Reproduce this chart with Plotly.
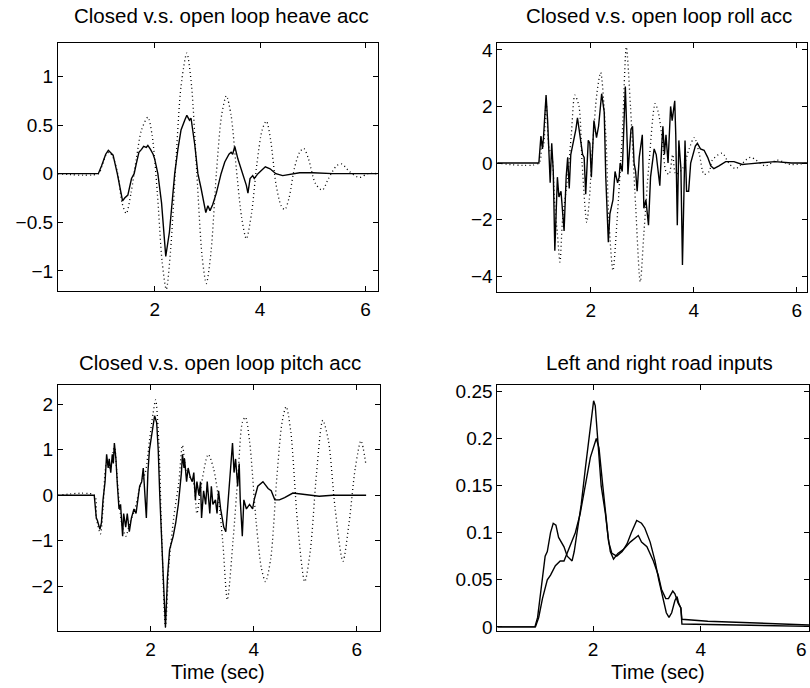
import plotly.graph_objects as go

# ---------------- data ----------------
heave_closed_t = [0.16, 0.93, 0.99, 1.07, 1.12, 1.18, 1.21, 1.29, 1.34, 1.39, 1.43, 1.49, 1.56, 1.61, 1.65, 1.70,
                  1.75, 1.79, 1.84, 1.87, 1.92, 1.97, 2.00, 2.06, 2.13, 2.17, 2.21, 2.28, 2.33, 2.38, 2.44, 2.50,
                  2.57, 2.61, 2.66, 2.69, 2.76, 2.82, 2.88, 2.97, 3.01, 3.05, 3.10, 3.17, 3.26, 3.33, 3.41, 3.45,
                  3.48, 3.52, 3.58, 3.64, 3.70, 3.74, 3.77, 3.81, 3.86, 3.89, 3.96, 4.05, 4.10, 4.19, 4.30, 4.43,
                  4.55, 4.75, 5.00, 5.38, 6.23]
heave_closed = [0.0, 0.0, 0.08, 0.20, 0.24, 0.20, 0.19, 0.0, -0.15, -0.28, -0.25, -0.22, -0.05, 0.0, 0.10, 0.22,
                0.25, 0.28, 0.27, 0.29, 0.25, 0.20, 0.15, 0.0, -0.30, -0.60, -0.85, -0.60, -0.30, 0.0, 0.25, 0.45,
                0.55, 0.60, 0.55, 0.57, 0.30, 0.0, -0.15, -0.40, -0.33, -0.38, -0.32, -0.20, 0.0, 0.12, 0.20, 0.22,
                0.20, 0.28, 0.15, 0.05, -0.05, -0.12, -0.20, -0.05, -0.02, -0.05, 0.0, 0.05, 0.07, 0.05, 0.0, -0.02,
                -0.01, 0.01, 0.01, 0.0, 0.0]

heave_open_t = [0.16, 0.93, 1.00, 1.08, 1.13, 1.20, 1.30, 1.38, 1.46, 1.55, 1.65, 1.75, 1.87, 1.95, 2.05, 2.14,
                2.22, 2.30, 2.40, 2.50, 2.61, 2.70, 2.80, 2.90, 2.98, 3.07, 3.17, 3.27, 3.36, 3.45, 3.55, 3.65,
                3.74, 3.84, 3.94, 4.04, 4.12, 4.20, 4.30, 4.40, 4.47, 4.55, 4.65, 4.75, 4.83, 4.92, 5.05, 5.18,
                5.30, 5.45, 5.55, 5.70, 5.88, 6.05, 6.23]
heave_open = [0.0, 0.0, 0.08, 0.20, 0.22, 0.18, 0.0, -0.30, -0.41, -0.20, 0.15, 0.45, 0.58, 0.40, -0.20, -0.90,
              -1.19, -0.80, 0.10, 0.90, 1.24, 0.90, 0.0, -0.85, -1.13, -0.80, 0.0, 0.60, 0.80, 0.60, 0.05, -0.45,
              -0.67, -0.40, 0.10, 0.45, 0.54, 0.35, -0.10, -0.33, -0.37, -0.25, 0.05, 0.22, 0.26, 0.15, -0.10, -0.17,
              -0.05, 0.08, 0.10, 0.02, -0.04, 0.0, 0.0]

roll_closed_t = [0.18, 0.99, 1.03, 1.06, 1.08, 1.13, 1.16, 1.19, 1.21, 1.24, 1.26, 1.27, 1.30, 1.33, 1.35, 1.38,
                 1.42, 1.48, 1.52, 1.55, 1.58, 1.61, 1.66, 1.71, 1.74, 1.78, 1.84, 1.87, 1.90, 1.95, 1.98, 2.01,
                 2.03, 2.06, 2.11, 2.15, 2.21, 2.26, 2.29, 2.34, 2.37, 2.43, 2.47, 2.52, 2.55, 2.57, 2.61, 2.67,
                 2.71, 2.72, 2.78, 2.81, 2.84, 2.87, 2.90, 2.94, 3.00, 3.03, 3.07, 3.12, 3.16, 3.23, 3.27, 3.34,
                 3.38, 3.40, 3.43, 3.46, 3.50, 3.53, 3.55, 3.58, 3.63, 3.65, 3.68, 3.71, 3.75, 3.78, 3.81, 3.83,
                 3.86, 3.90, 3.94, 3.97, 4.03, 4.07, 4.13, 4.20, 4.27, 4.33, 4.39, 4.49, 4.62, 4.78, 4.94, 5.07,
                 5.26, 5.58, 5.90, 6.20]
roll_closed = [0.0, 0.0, 0.95, 0.5, 0.9, 2.4, 1.5, 0.0, -0.7, 0.7, 0.0, -0.3, -3.1, -1.5, -0.5, -1.2,
               -1.0, -2.4, -0.5, 0.2, -0.9, 0.3, 0.7, 1.2, 1.6, 1.0, 0.3, 0.2, -1.1, 0.8, 0.7, -0.5,
               0.5, 1.5, 0.9, 1.3, 2.45, 1.8, -0.5, -2.8, -1.8, -1.3, -0.3, -0.7, -0.5, 0.0, -0.3, 2.7,
               0.5, -0.4, 1.2, 1.3, 0.0, -0.3, -1.0, 0.2, 1.0, -1.6, -1.3, -2.2, -0.5, 0.5, 0.3, -0.8,
               0.7, 1.3, 0.3, 1.0, 0.0, 1.0, 2.0, 1.5, 2.2, 1.0, -2.2, 0.8, -0.2, -3.6, -1.0, 0.8,
               -1.0, -1.0, 0.0, 0.2, 0.6, 0.7, 0.5, 0.45, 0.2, -0.1, -0.2, -0.1, 0.05, 0.05, -0.05, -0.03,
               0.0, 0.05, 0.0, 0.0]

roll_open_t = [0.18, 0.99, 1.03, 1.08, 1.13, 1.19, 1.24, 1.30, 1.35, 1.40, 1.45, 1.55, 1.62, 1.69, 1.77, 1.83,
               1.92, 1.97, 2.03, 2.12, 2.19, 2.29, 2.35, 2.43, 2.51, 2.61, 2.69, 2.77, 2.87, 2.96, 3.03, 3.13,
               3.25, 3.31, 3.39, 3.46, 3.52, 3.59, 3.65, 3.78, 3.91, 4.01, 4.11, 4.20, 4.30, 4.36, 4.55, 4.68,
               4.81, 5.10, 5.39, 5.62, 5.88, 6.20]
roll_open = [0.0, 0.0, 0.9, 0.6, 2.2, 0.5, 0.3, -1.5, -2.5, -3.5, -2.0, -0.5, 1.0, 2.4, 2.0, 0.0,
             -2.1, -1.3, 0.5, 2.5, 3.2, 1.0, -2.0, -3.8, -2.0, 1.0, 4.1, 2.0, -1.5, -4.2, -2.5, 0.0,
             2.1, 1.8, 0.8, -0.3, -0.4, 0.3, -0.4, -0.2, 0.5, 0.9, 0.3, -0.4, -0.3, 0.1, 0.35, 0.0,
             -0.2, 0.2, -0.1, 0.1, -0.05, 0.0]

pitch_closed_t = [0.21, 0.91, 0.95, 0.97, 1.02, 1.05, 1.08, 1.12, 1.15, 1.18, 1.20, 1.23, 1.26, 1.28, 1.30, 1.33,
                  1.36, 1.39, 1.42, 1.46, 1.48, 1.52, 1.55, 1.59, 1.63, 1.68, 1.72, 1.76, 1.79, 1.83, 1.86, 1.92,
                  1.95, 1.98, 2.02, 2.08, 2.12, 2.15, 2.18, 2.23, 2.29, 2.33, 2.37, 2.44, 2.49, 2.54, 2.57, 2.60,
                  2.62, 2.65, 2.66, 2.70, 2.73, 2.77, 2.81, 2.84, 2.87, 2.90, 2.94, 2.97, 2.99, 3.03, 3.07, 3.10,
                  3.15, 3.18, 3.21, 3.26, 3.29, 3.32, 3.36, 3.42, 3.46, 3.49, 3.53, 3.57, 3.59, 3.62, 3.65, 3.69,
                  3.72, 3.74, 3.78, 3.81, 3.86, 3.92, 3.98, 4.01, 4.08, 4.18, 4.21, 4.28, 4.34, 4.41, 4.50, 4.60,
                  4.76, 4.89, 5.08, 5.27, 5.53, 6.18]
pitch_closed = [0.0, 0.0, -0.5, -0.55, -0.75, -0.6, -0.1, 0.3, 0.9, 0.6, 0.8, 0.5, 0.9, 0.7, 1.15, 0.8,
                0.2, -0.3, -0.2, -0.9, -0.4, -0.7, -0.4, -0.8, -0.5, -0.3, -0.4, -0.1, 0.2, 0.3, 0.6, -0.5,
                0.5, 1.0, 1.3, 1.75, 1.6, 1.0, 0.0, -1.2, -2.9, -1.8, -1.2, -0.9, -0.6, -0.2, 0.1, 0.5,
                0.9, 0.6, 0.8, 0.3, 0.6, 0.4, 0.3, 0.5, -0.1, 0.3, 0.0, 0.3, -0.5, 0.1, -0.2, 0.3,
                -0.4, 0.2, -0.2, -0.1, -0.4, 0.1, -0.3, -0.7, -0.8, -0.3, 0.3, 0.9, 1.15, 0.5, 0.8, 0.2,
                0.7, -0.1, -0.9, -0.1, -0.3, -0.2, -0.3, -0.1, 0.2, 0.3, 0.25, 0.15, 0.1, -0.1, -0.1, -0.05,
                0.05, 0.03, 0.0, -0.02, 0.0, 0.0]

pitch_open_t = [0.21, 0.91, 0.95, 1.03, 1.08, 1.15, 1.22, 1.30, 1.36, 1.44, 1.52, 1.60, 1.70, 1.80, 1.90, 1.98,
                2.05, 2.10, 2.16, 2.22, 2.29, 2.36, 2.45, 2.55, 2.62, 2.70, 2.83, 2.90, 2.98, 3.12, 3.22, 3.31,
                3.40, 3.49, 3.60, 3.70, 3.78, 3.84, 3.92, 4.05, 4.15, 4.23, 4.33, 4.45, 4.55, 4.63, 4.72, 4.85,
                4.99, 5.10, 5.22, 5.34, 5.45, 5.58, 5.73, 5.85, 5.97, 6.08, 6.18]
pitch_open = [0.0, 0.0, -0.5, -0.85, -0.3, 0.7, 0.6, 1.1, 0.3, -0.6, -0.9, -0.6, -0.3, 0.2, 0.5, 1.2,
              1.8, 2.1, 1.2, -1.0, -2.9, -1.5, -0.5, 0.3, 1.1, 0.5, 0.3, -0.4, 0.2, 0.9, 0.6, 0.0,
              -1.0, -2.3, -1.0, 0.5, 1.6, 1.72, 1.2, -0.6, -1.6, -1.9, -1.4, 0.4, 1.6, 1.95, 1.4, -0.6,
              -1.9, -1.2, 0.5, 1.65, 1.2, -0.3, -1.45, -0.6, 0.6, 1.2, 0.65]

road_a_t = [0.22, 0.92, 0.97, 1.06, 1.11, 1.15, 1.21, 1.26, 1.31, 1.36, 1.42, 1.46, 1.52, 1.61, 1.65, 1.70,
            1.78, 1.86, 1.94, 2.01, 2.04, 2.09, 2.15, 2.23, 2.29, 2.35, 2.44, 2.54, 2.63, 2.71, 2.81, 2.90,
            2.96, 3.06, 3.15, 3.22, 3.30, 3.36, 3.41, 3.46, 3.52, 3.56, 3.59, 3.63, 3.65, 6.01]
road_a = [0.0, 0.0, 0.01, 0.05, 0.075, 0.08, 0.10, 0.11, 0.108, 0.095, 0.088, 0.085, 0.075, 0.07, 0.08, 0.10,
          0.13, 0.17, 0.21, 0.24, 0.235, 0.20, 0.15, 0.12, 0.09, 0.078, 0.075, 0.08, 0.088, 0.10, 0.113, 0.11,
          0.105, 0.09, 0.07, 0.05, 0.03, 0.015, 0.01, 0.015, 0.028, 0.032, 0.025, 0.02, 0.003, 0.0005]

road_b_t = [0.22, 0.93, 0.99, 1.06, 1.15, 1.21, 1.30, 1.39, 1.46, 1.52, 1.61, 1.67, 1.76, 1.86, 1.95, 2.06,
            2.11, 2.18, 2.23, 2.28, 2.32, 2.38, 2.46, 2.56, 2.69, 2.84, 2.90, 3.00, 3.12, 3.21, 3.27, 3.35,
            3.40, 3.48, 3.52, 3.58, 3.63, 3.65, 4.13, 6.01]
road_b = [0.0, 0.0, 0.01, 0.03, 0.05, 0.055, 0.065, 0.07, 0.07, 0.078, 0.09, 0.10, 0.12, 0.15, 0.18, 0.20,
          0.19, 0.15, 0.12, 0.095, 0.08, 0.072, 0.078, 0.082, 0.09, 0.097, 0.09, 0.085, 0.07, 0.055, 0.04, 0.03,
          0.03, 0.038, 0.035, 0.025, 0.02, 0.008, 0.006, 0.002]

titles = ["Closed v.s. open loop heave acc", "Closed v.s. open loop roll acc",
          "Closed v.s. open loop pitch acc", "Left and right road inputs"]
x_label = "Time (sec)"
x_ticks = [2, 4, 6]
heave_yticks = [-1, -0.5, 0, 0.5, 1]
roll_yticks = [-4, -2, 0, 2, 4]
pitch_yticks = [-2, -1, 0, 1, 2]
road_yticks = [0, 0.05, 0.1, 0.15, 0.2, 0.25]
edge_tick_label = "6"

# ---------------- figure ----------------
W, H = 810, 688
FONT = "Liberation Sans, Arial, Helvetica, sans-serif"
solid = dict(color="black", width=1.4)
dotted = dict(color="black", width=1.3, dash="1px,3px", shape="spline", smoothing=0.8)

fig = go.Figure()
fig.add_trace(go.Scatter(x=heave_open_t, y=heave_open, mode="lines", line=dotted, xaxis="x", yaxis="y"))
fig.add_trace(go.Scatter(x=heave_closed_t, y=heave_closed, mode="lines", line=solid, xaxis="x", yaxis="y"))
fig.add_trace(go.Scatter(x=roll_open_t, y=roll_open, mode="lines", line=dotted, xaxis="x2", yaxis="y2"))
fig.add_trace(go.Scatter(x=roll_closed_t, y=roll_closed, mode="lines", line=solid, xaxis="x2", yaxis="y2"))
fig.add_trace(go.Scatter(x=pitch_open_t, y=pitch_open, mode="lines", line=dotted, xaxis="x3", yaxis="y3"))
fig.add_trace(go.Scatter(x=pitch_closed_t, y=pitch_closed, mode="lines", line=solid, xaxis="x3", yaxis="y3"))
fig.add_trace(go.Scatter(x=road_a_t, y=road_a, mode="lines", line=solid, xaxis="x4", yaxis="y4"))
fig.add_trace(go.Scatter(x=road_b_t, y=road_b, mode="lines", line=solid, xaxis="x4", yaxis="y4"))


def px_dom_x(a, b):
    return [a / W, min(b / W, 1.0)]


def px_dom_y(top, bottom):
    return [1 - bottom / H, 1 - top / H]


axis_common = dict(showline=True, linecolor="black", linewidth=1, mirror="ticks", ticks="inside",
                   ticklen=5, tickcolor="black", tickwidth=1, showgrid=False, zeroline=False,
                   tickfont=dict(family=FONT, size=19, color="black"))
xaxis_extra = dict(ticklabelstandoff=1)

layout = dict(
    width=W, height=H, margin=dict(l=0, r=0, t=0, b=0),
    paper_bgcolor="white", plot_bgcolor="white", showlegend=False,
    xaxis=dict(domain=px_dom_x(58, 378), range=[0.163, 6.23], tickvals=x_ticks, anchor="y",
               **axis_common, **xaxis_extra),
    yaxis=dict(domain=px_dom_y(40, 292), range=[-1.21, 1.34], tickvals=heave_yticks, anchor="x", **axis_common),
    xaxis2=dict(domain=px_dom_x(498, 808), range=[0.184, 6.2], tickvals=x_ticks, anchor="y2",
                **axis_common, **xaxis_extra),
    yaxis2=dict(domain=px_dom_y(40, 293), range=[-4.57, 4.23], tickvals=roll_yticks, anchor="x2", **axis_common),
    xaxis3=dict(domain=px_dom_x(58, 380), range=[0.206, 6.44], tickvals=x_ticks, anchor="y3",
                **axis_common, **xaxis_extra),
    yaxis3=dict(domain=px_dom_y(387, 637), range=[-2.98, 2.43], tickvals=pitch_yticks, anchor="x3", **axis_common),
    xaxis4=dict(domain=px_dom_x(498, 810), range=[0.223, 6.01], tickvals=x_ticks, anchor="y4",
                **axis_common, **xaxis_extra),
    yaxis4=dict(domain=px_dom_y(387, 637), range=[-0.0042, 0.257], tickvals=road_yticks, anchor="x4", **axis_common),
)
fig.update_layout(**layout)

ann = []
title_pos = [(222, 12, 20.5), (660, 12, 20.5), (220, 364, 20.5), (660, 364, 20.5)]
for text, (cx, cy, fs) in zip(titles, title_pos):
    ann.append(dict(text=text, x=cx / W, y=1 - cy / H, xref="paper", yref="paper", showarrow=False,
                    xanchor="center", yanchor="middle", font=dict(family=FONT, size=fs, color="black")))
for cx in (218, 659):
    ann.append(dict(text=x_label, x=cx / W, y=1 - 679 / H, xref="paper", yref="paper", showarrow=False,
                    xanchor="center", yanchor="middle", font=dict(family=FONT, size=20, color="black")))
# tick label "6" of the road-input axis sits on the page's right edge
ann.append(dict(text=edge_tick_label, x=1.0, y=1 - 656 / H, xref="paper", yref="paper", showarrow=False,
                xanchor="right", yanchor="middle", font=dict(family=FONT, size=19, color="black")))
fig.update_layout(annotations=ann)

fig.write_html("out.html")
